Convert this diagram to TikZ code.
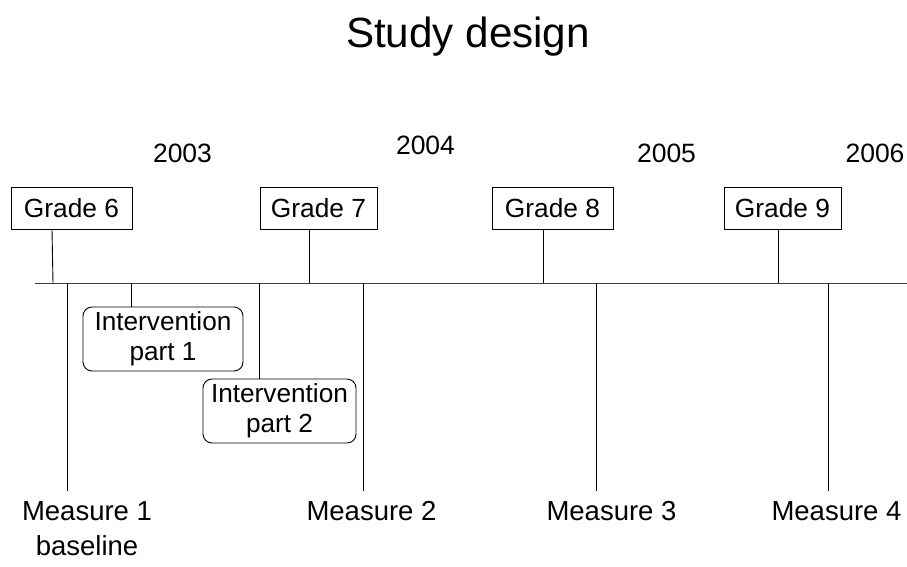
\documentclass[tikz,border=0pt]{standalone}
\usepackage{fontspec}
\setmainfont{Liberation Sans}
\begin{document}
\begin{tikzpicture}[x=1pt,y=-1pt,
  txt/.style={font=\fontsize{26.5}{30}\selectfont, inner sep=0pt, anchor=base},
  meas/.style={font=\fontsize{27.5}{30}\selectfont, inner sep=0pt, anchor=base},
  gradebox/.style={draw, line width=0.9pt, font=\fontsize{26.3}{30}\selectfont, inner sep=0pt, minimum height=42pt},
  intbox/.style={draw, line width=0.9pt, rounded corners=9pt, font=\fontsize{26.2}{30}\selectfont, align=center, inner sep=0pt, minimum height=64pt},
  conn/.style={line width=0.9pt},
  axisline/.style={line width=1pt, black!75}]
\useasboundingbox (0,0) rectangle (907,566);
% title
\node[txt, font=\fontsize{42.2}{48}\selectfont] (title) at (468,47) {Study design};
% years
\node[txt] (y3) at (182.5,162) {2003};
\node[txt] (y4) at (425.5,154) {2004};
\node[txt] (y5) at (666.5,162) {2005};
\node[txt] (y6) at (875,162) {2006};
% grade boxes
\node[gradebox, minimum width=121pt] (g6) at (71.5,208) {Grade 6};
\node[gradebox, minimum width=117pt] (g7) at (318.5,208.5) {Grade 7};
\node[gradebox, minimum width=121pt] (g8) at (552.5,208.5) {Grade 8};
\node[gradebox, minimum width=117pt] (g9) at (782.5,208.5) {Grade 9};
% axis
\coordinate (axL) at (35,283);
\coordinate (axR) at (907,283);
\draw[axisline] (axL) -- (axR);
% grade connectors
\coordinate (a6) at (53,283);
\coordinate (a7) at (309,283);
\coordinate (a8) at (543,283);
\coordinate (a9) at (778,283);
\draw[conn] (g6.south -| 52,0) -- (a6);
\draw[conn] (g7.south -| a7) -- (a7);
\draw[conn] (g8.south -| a8) -- (a8);
\draw[conn] (g9.south -| a9) -- (a9);
% intervention boxes
\node[intbox, minimum width=160pt] (i1) at (163,339) {Intervention\\part 1};
\node[intbox, minimum width=153pt] (i2) at (279.5,411) {Intervention\\part 2};
\coordinate (ai1) at (131,283);
\coordinate (ai2) at (259,283);
\draw[conn] (ai1) -- (i1.north -| ai1);
\draw[conn] (ai2) -- (i2.north -| ai2);
% measure lines
\coordinate (m1t) at (67,283);  \coordinate (m1b) at (67,491);
\coordinate (m2t) at (363,283); \coordinate (m2b) at (363,491);
\coordinate (m3t) at (596,283); \coordinate (m3b) at (596,491);
\coordinate (m4t) at (828,283); \coordinate (m4b) at (828,491);
\draw[conn] (m1t) -- (m1b);
\draw[conn] (m2t) -- (m2b);
\draw[conn] (m3t) -- (m3b);
\draw[conn] (m4t) -- (m4b);
% measure labels
\node[meas] (ms1) at (87,520) {Measure 1};
\node[meas] (bl) at (87,555) {baseline};
\node[meas] (ms2) at (371.5,520) {Measure 2};
\node[meas] (ms3) at (611.5,520) {Measure 3};
\node[meas] (ms4) at (836.5,520) {Measure 4};
\end{tikzpicture}
\end{document}
